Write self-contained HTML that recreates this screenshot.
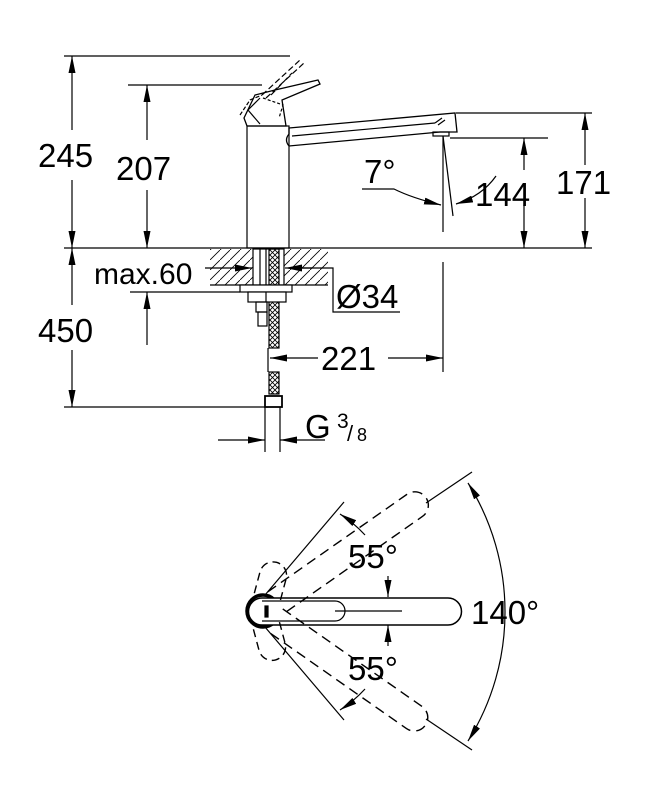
<!DOCTYPE html>
<html><head><meta charset="utf-8"><style>
html,body{margin:0;padding:0;background:#fff}
svg{display:block}
text{font-family:"Liberation Sans",sans-serif;fill:#000}
</style></head><body>
<svg width="651" height="794" viewBox="0 0 651 794" xmlns="http://www.w3.org/2000/svg">
<defs>
<marker id="a" viewBox="0 0 10 10" preserveAspectRatio="none" refX="10" refY="5" markerWidth="17" markerHeight="7" markerUnits="userSpaceOnUse" orient="auto"><path d="M0,0 L10,5 L0,10 z" fill="#000"/></marker>
<pattern id="h" width="10" height="10" patternUnits="userSpaceOnUse"><path d="M-2,12 L12,-2" stroke="#000" stroke-width="0.8"/></pattern>
<pattern id="x" width="5" height="5" patternUnits="userSpaceOnUse"><path d="M0,5 L5,0 M0,0 L5,5" stroke="#000" stroke-width="0.8"/></pattern>
</defs>
<g stroke="#000" fill="none" stroke-width="1.2">
<line x1="64" y1="56" x2="290" y2="56"/>
<line x1="128" y1="85" x2="262" y2="85"/>
<line x1="64" y1="248" x2="592" y2="248"/>
<line x1="456" y1="113" x2="592" y2="113"/>
<line x1="450" y1="138" x2="548" y2="138"/>
<line x1="64" y1="407" x2="268" y2="407"/>
<line x1="130" y1="292" x2="240" y2="292"/>
<line x1="72" y1="130" x2="72" y2="56" marker-end="url(#a)"/>
<line x1="72" y1="180" x2="72" y2="248" marker-end="url(#a)"/>
<line x1="147" y1="140" x2="147" y2="85" marker-end="url(#a)"/>
<line x1="147" y1="190" x2="147" y2="248" marker-end="url(#a)"/>
<line x1="72" y1="305" x2="72" y2="248" marker-end="url(#a)"/>
<line x1="72" y1="350" x2="72" y2="407" marker-end="url(#a)"/>
<line x1="147" y1="345" x2="147" y2="292" marker-end="url(#a)"/>
<line x1="585" y1="165" x2="585" y2="113" marker-end="url(#a)"/>
<line x1="585" y1="198" x2="585" y2="248" marker-end="url(#a)"/>
<line x1="524" y1="170" x2="524" y2="138" marker-end="url(#a)"/>
<line x1="524" y1="205" x2="524" y2="248" marker-end="url(#a)"/>
<rect x="247" y="126" width="42" height="122"/>
<path d="M244,118 L255,95 L275,90 L318,80 L320,84 L282,100 L286,126 L247,126 Z" stroke-width="1.3"/>
<path d="M260,98 L248,110 L260,124" />
<path d="M240,115 L250,100 L262,95" stroke-dasharray="4,2"/>
<path d="M262,95 L300,60 M266,98 L304,63 M271,95 L292,73" stroke-dasharray="6,3"/>
<path d="M263,98 L283,105 L279,118" stroke-dasharray="3,2"/>
<path d="M289,128 L455,113 L457,132 L440,132 L289,146 Q284,140 289,134 Z" stroke-width="1.3"/>
<line x1="292" y1="136" x2="435" y2="123"/>
<path d="M435,123 L442,118 M438,125 L445,120"/>
<rect x="433" y="132" width="16" height="4"/>
<line x1="443" y1="136" x2="443" y2="232"/>
<line x1="443" y1="136" x2="453" y2="216"/>
<path d="M362,189 L394,189 Q412,198 441,205" marker-end="url(#a)"/>
<path d="M496,176 Q482,196 456,204" marker-end="url(#a)"/>
<rect x="210" y="249" width="118" height="36" fill="url(#h)" stroke="none"/>
<line x1="210" y1="285" x2="328" y2="285"/>
<rect x="253" y="249" width="31" height="36" fill="#fff"/>
<line x1="260" y1="249" x2="260" y2="285"/>
<line x1="266" y1="249" x2="266" y2="285"/>
<rect x="269" y="249" width="10" height="99" fill="url(#x)"/>
<rect x="269" y="372" width="10" height="22" fill="url(#x)"/>
<line x1="268" y1="348" x2="268" y2="372"/>
<rect x="240" y="285" width="52" height="7" fill="#fff"/>
<rect x="248" y="292" width="38" height="10" fill="#fff"/>
<line x1="266" y1="292" x2="266" y2="302"/>
<rect x="256" y="302" width="11" height="10"/>
<rect x="258" y="312" width="9" height="14"/>
<rect x="265" y="396" width="17" height="11" fill="#fff" stroke-width="1.8"/>
<line x1="205" y1="268" x2="252" y2="268" marker-end="url(#a)"/>
<line x1="312" y1="268" x2="285" y2="268" marker-end="url(#a)"/>
<polyline points="300,268 333,268 333,312 400,312"/>
<line x1="443" y1="262" x2="443" y2="372"/>
<line x1="318" y1="358" x2="270" y2="358" marker-end="url(#a)"/>
<line x1="388" y1="358" x2="443" y2="358" marker-end="url(#a)"/>
<line x1="265" y1="407" x2="265" y2="452"/>
<line x1="280" y1="407" x2="280" y2="452"/>
<line x1="218" y1="440" x2="265" y2="440" marker-end="url(#a)"/>
<line x1="325" y1="440" x2="280" y2="440" marker-end="url(#a)"/>

<circle cx="263" cy="611" r="16" stroke-width="3.5"/>
<path d="M262,598 L448,598 A13.5,13.5 0 0 1 448,625 L262,625 A13.5,13.5 0 0 1 262,598 Z" fill="#fff" stroke-width="1.5"/>
<path d="M262,601 L335,601 A10,10 0 0 1 335,621 L262,621" />
<line x1="335" y1="611" x2="402" y2="611"/>
<rect x="265" y="606" width="3" height="11" fill="#000"/>
<g stroke-dasharray="10,6" stroke-width="1.4" transform="rotate(-35 263 611)">
<path d="M278,598 L448,598 A13.5,13.5 0 0 1 448,625 L278,625"/>
</g>
<g stroke-dasharray="10,6" stroke-width="1.4" transform="rotate(35 263 611)">
<path d="M278,598 L448,598 A13.5,13.5 0 0 1 448,625 L278,625"/>
</g>
<g stroke-dasharray="8,5" stroke-width="1.4" transform="rotate(-75 263 611)">
<path d="M278,598 L300,598 A13.5,13.5 0 0 1 300,625 L278,625"/>
</g>
<g stroke-dasharray="8,5" stroke-width="1.4" transform="rotate(75 263 611)">
<path d="M278,598 L300,598 A13.5,13.5 0 0 1 300,625 L278,625"/>
</g>
<line x1="265" y1="595" x2="344" y2="502"/>
<line x1="265" y1="627" x2="344" y2="720"/>
<line x1="426" y1="503" x2="472" y2="472"/>
<line x1="426" y1="719" x2="472" y2="750"/>
<path d="M505,612 A242,242 0 0 0 468,483" marker-end="url(#a)"/>
<path d="M505,612 A242,242 0 0 1 468,741" marker-end="url(#a)"/>
<path d="M365,535 A125,125 0 0 0 340,514" marker-end="url(#a)"/>
<path d="M365,689 A125,125 0 0 1 340,710" marker-end="url(#a)"/>
<path d="M388,576 L388,597" marker-end="url(#a)"/>
<path d="M388,646 L388,625" marker-end="url(#a)"/>
</g>
<g font-size="33">
<text x="38" y="167">245</text>
<text x="116" y="180">207</text>
<text x="38" y="342">450</text>
<text x="364" y="183">7°</text>
<text x="475" y="206">144</text>
<text x="556" y="194">171</text>
<text x="94" y="284" font-size="30">max.60</text>
<text x="336" y="308">Ø34</text>
<text x="321" y="370">221</text>
<text x="305" y="438">G</text>
<text x="337" y="428" font-size="21">3</text>
<text x="347" y="441" font-size="22">/</text>
<text x="357" y="441" font-size="18">8</text>
<text x="348" y="568">55°</text>
<text x="348" y="680">55°</text>
<text x="471" y="624">140°</text>
</g>
</svg>
</body></html>
